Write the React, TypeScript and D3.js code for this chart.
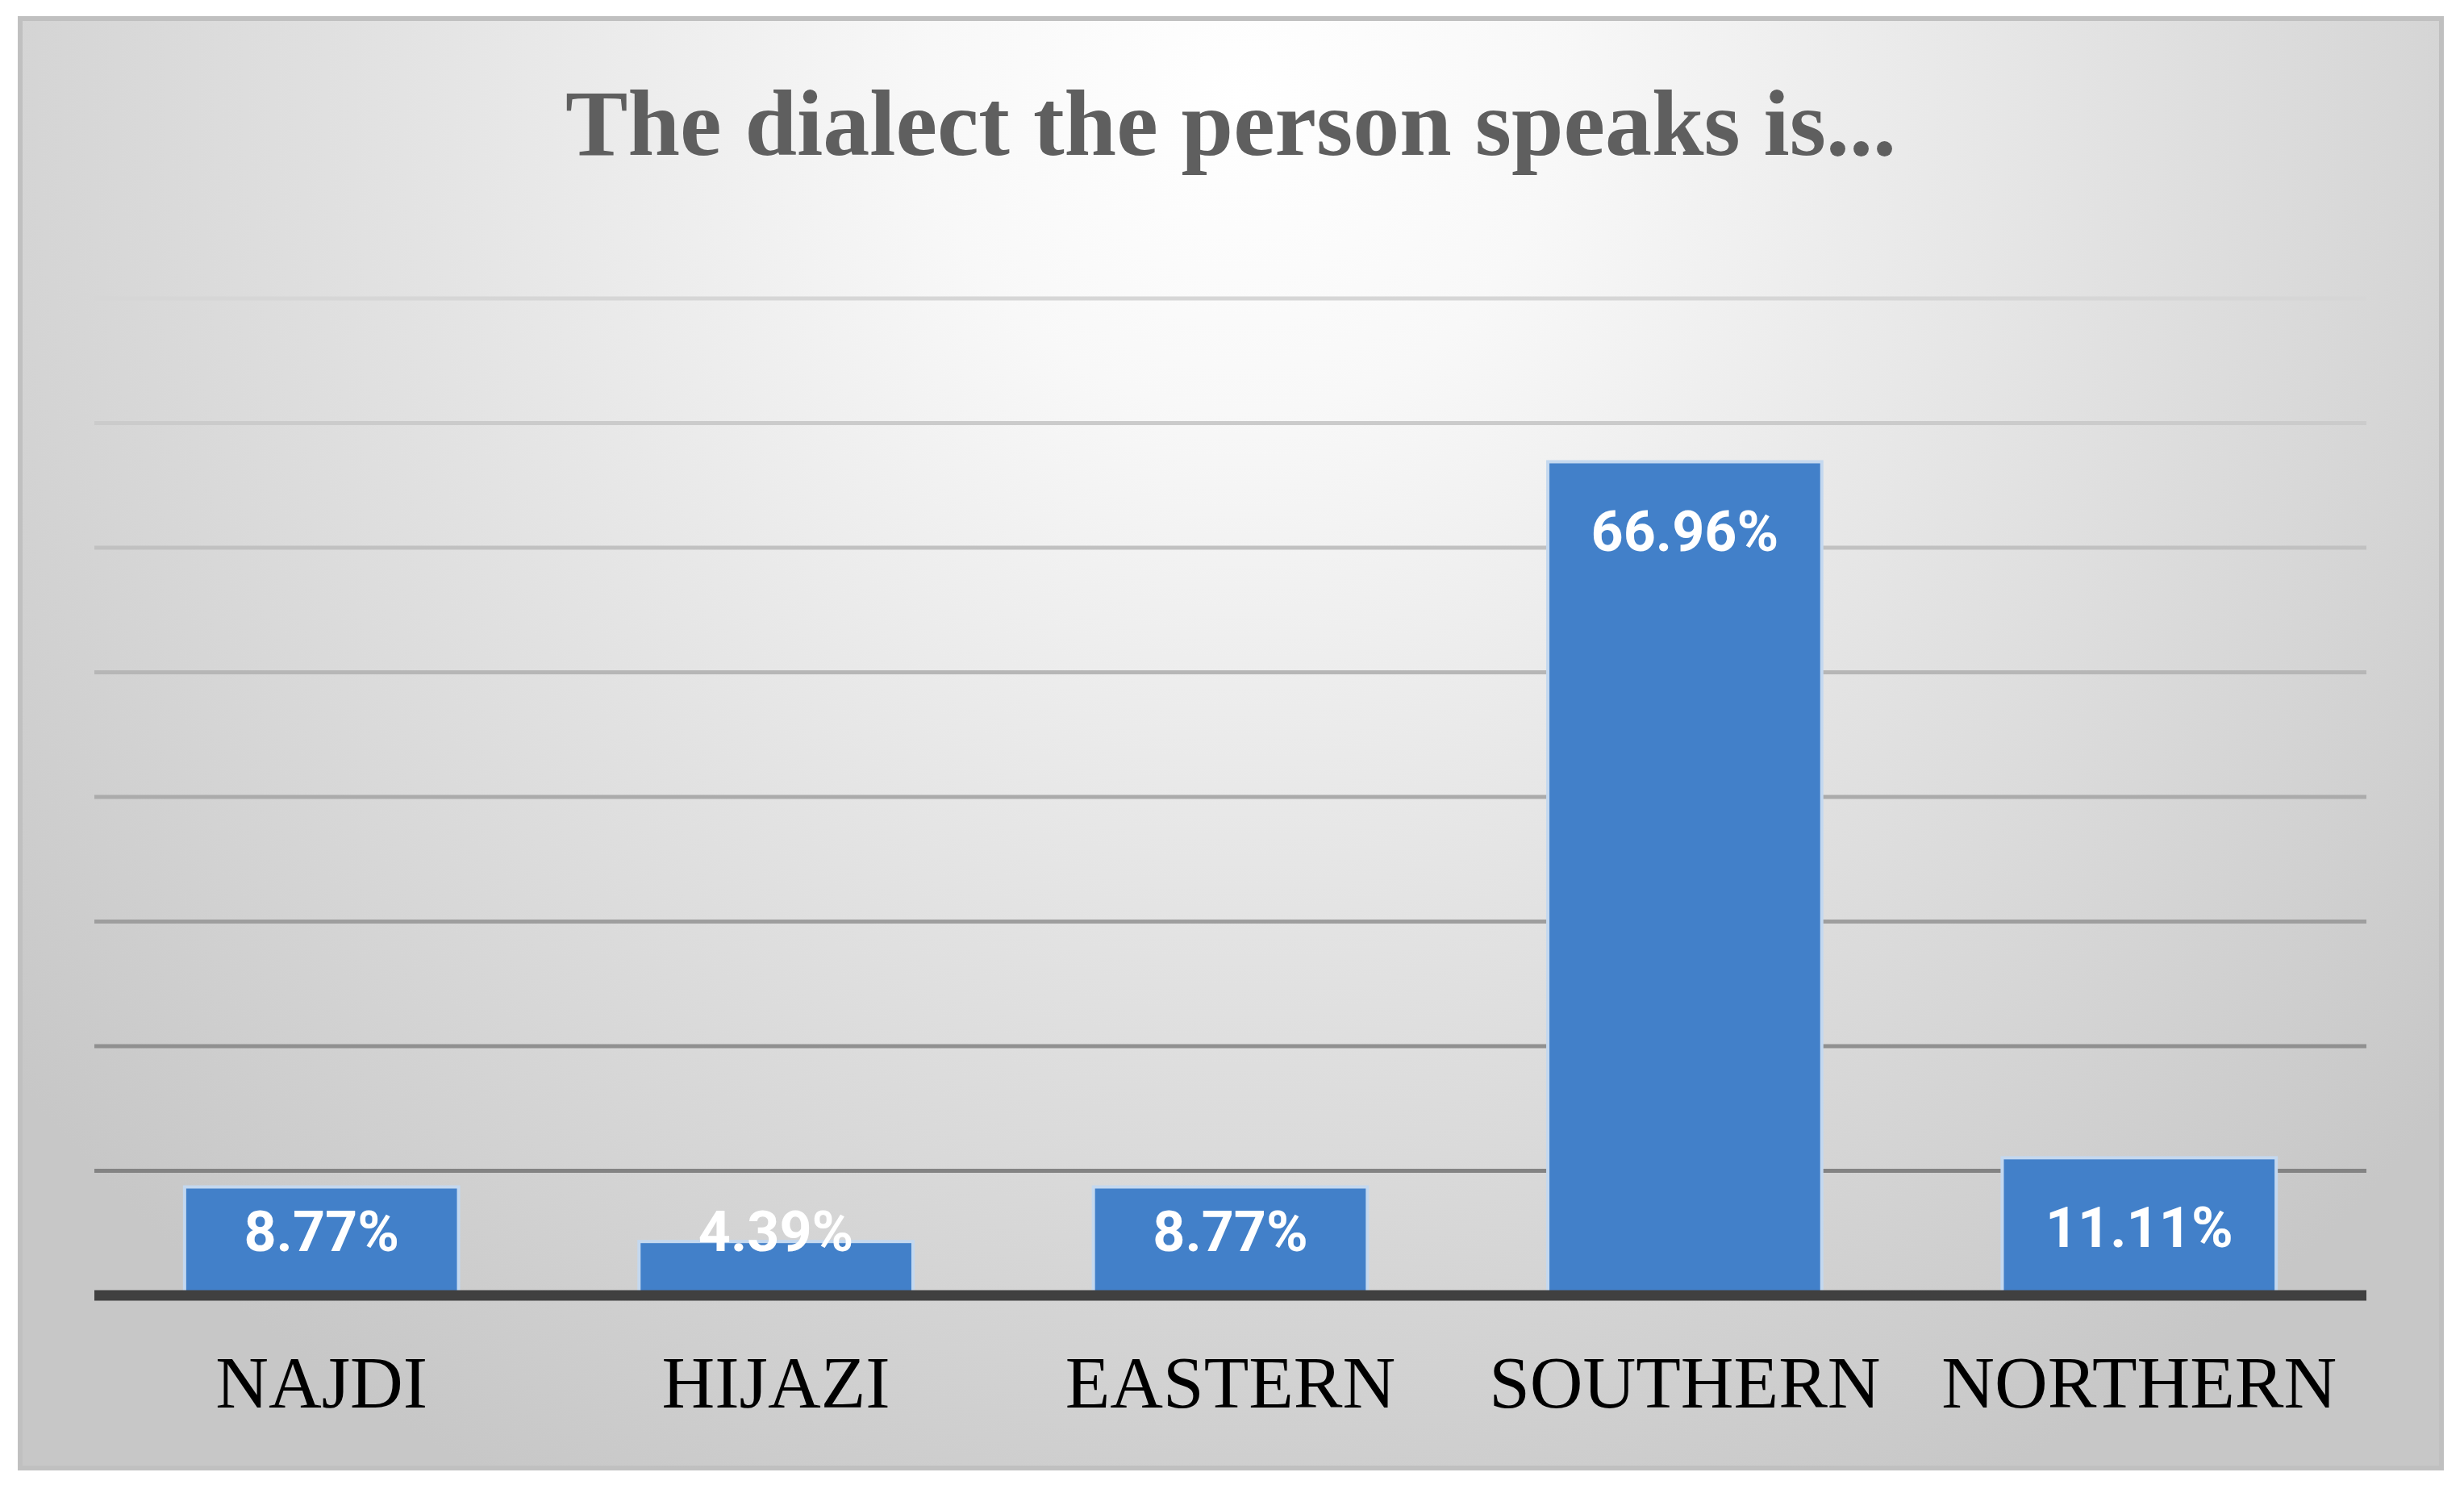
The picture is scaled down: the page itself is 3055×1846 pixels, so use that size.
import React from "react";
import * as d3 from "d3";

const categories = ["NAJDI", "HIJAZI", "EASTERN", "SOUTHERN", "NORTHERN"];
const values = [8.77, 4.39, 8.77, 66.96, 11.11];
const valueLabels = ["8.77%", "4.39%", "8.77%", "66.96%", "11.11%"];
const gridTicks = [10, 20, 30, 40, 50, 60, 70, 80];
const title = "The dialect the person speaks is...";

const W = 3055;
const H = 1846;
const plotLeft = 117;
const plotRight = 2934;
const yZero = 1606;
const yTop = 370;

export default function App() {
  const x = d3.scaleBand<string>().domain(categories).range([plotLeft, plotRight]).paddingInner(0.39).paddingOuter(0.195);
  const y = d3.scaleLinear().domain([0, 80]).range([yZero, yTop]);
  const gridColor = d3.scaleLinear<string>().domain([10, 40, 80]).range(["#838383", "#abababab".slice(0, 7), "#d6d6d6"]);

  return (
    <svg width={W} height={H} style={{ position: "absolute", left: 0, top: 0, display: "block" }}>
      <defs>
        <radialGradient id="bg" gradientUnits="userSpaceOnUse" cx={1540} cy={120} r={1950}>
          <stop offset="0" stopColor="#ffffff" />
          <stop offset="0.2" stopColor="#f8f8f8" />
          <stop offset="0.55" stopColor="#e2e2e2" />
          <stop offset="1" stopColor="#c7c7c7" />
        </radialGradient>
      </defs>
      <rect x={0} y={0} width={W} height={H} fill="#ffffff" />
      <rect x={25} y={23} width={3002} height={1797} fill="url(#bg)" stroke="#c0c0c0" strokeWidth={6} />
      <text
        x={1526}
        y={192}
        textAnchor="middle"
        fontFamily="'Liberation Serif', 'Times New Roman', serif"
        fontWeight="bold"
        fontSize={116}
        fill="#5f5f5f"
      >
        {title}
      </text>
      {gridTicks.map((t) => (
        <line key={t} x1={plotLeft} x2={plotRight} y1={y(t)} y2={y(t)} stroke={gridColor(t)} strokeWidth={5} />
      ))}
      {categories.map((c, i) => {
        const bx = x(c)!;
        const bw = x.bandwidth();
        const top = y(values[i]);
        return (
          <g key={c}>
            <rect x={bx + 2} y={top + 1} width={bw - 4} height={yZero - top - 1} fill="#4280c9" stroke="#c4d8ef" strokeWidth={4} />
          </g>
        );
      })}
      <line x1={plotLeft} x2={plotRight} y1={yZero} y2={yZero} stroke="#404040" strokeWidth={13} />
      {categories.map((c, i) => {
        const cx = x(c)! + x.bandwidth() / 2;
        const top = y(values[i]);
        const base = Math.min(top + 111.5, yZero - 55);
        return (
          <text
            key={c + "v"}
            x={cx}
            y={base}
            textAnchor="middle"
            fontFamily="Roboto, 'Noto Sans', sans-serif"
            fontWeight="bold"
            fontSize={70}
            fill="#ffffff"
          >
            {valueLabels[i]}
          </text>
        );
      })}
      {categories.map((c) => (
        <text
          key={c + "l"}
          x={x(c)! + x.bandwidth() / 2}
          y={1745}
          textAnchor="middle"
          fontFamily="'Liberation Serif', 'Times New Roman', serif"
          fontSize={91}
          fill="#000000"
        >
          {c}
        </text>
      ))}
    </svg>
  );
}
